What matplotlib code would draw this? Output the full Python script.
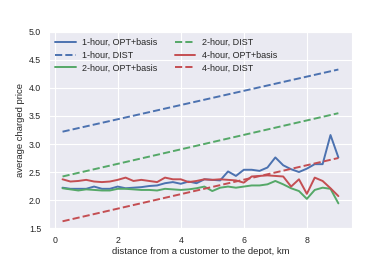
# average charged price vs distance to depot

import matplotlib
matplotlib.use("Agg")
import matplotlib.pyplot as plt
import seaborn as sns
import numpy as np

x = np.arange(1, 37) * 0.25

opt_1h = [2.22, 2.20, 2.20, 2.20, 2.24, 2.20, 2.20, 2.24, 2.21, 2.22, 2.23, 2.25,
          2.26, 2.30, 2.32, 2.29, 2.33, 2.30, 2.37, 2.36, 2.35, 2.51, 2.43, 2.54,
          2.54, 2.52, 2.58, 2.76, 2.62, 2.55, 2.50, 2.56, 2.64, 2.64, 3.16, 2.76]
opt_2h = [2.21, 2.19, 2.17, 2.19, 2.18, 2.17, 2.17, 2.20, 2.20, 2.19, 2.18, 2.18,
          2.17, 2.20, 2.19, 2.18, 2.19, 2.21, 2.24, 2.16, 2.22, 2.24, 2.22, 2.24,
          2.26, 2.26, 2.28, 2.34, 2.28, 2.21, 2.16, 2.02, 2.18, 2.22, 2.20, 1.94]
opt_4h = [2.37, 2.33, 2.34, 2.36, 2.33, 2.32, 2.33, 2.36, 2.40, 2.34, 2.36, 2.34,
          2.32, 2.40, 2.37, 2.37, 2.32, 2.34, 2.37, 2.36, 2.37, 2.36, 2.35, 2.31,
          2.42, 2.43, 2.44, 2.43, 2.42, 2.24, 2.37, 2.11, 2.40, 2.34, 2.21, 2.07]
dist_1h = [3.22, 4.33]
dist_2h = [2.42, 3.55]
dist_4h = [1.62, 2.75]
dist_x = [x[0], x[-1]]

sns.set_style("darkgrid")
plt.rcParams['font.family'] = ['Liberation Sans', 'DejaVu Sans']

fig = plt.figure(figsize=(3.9, 2.6), dpi=100)
ax = fig.add_axes([0.125, 0.123, 0.778, 0.754])

blue, green, red = "#4C72B0", "#55A868", "#C44E52"
lw = 1.4
ax.plot(x, opt_1h, color=blue, lw=lw, label="1-hour, OPT+basis")
ax.plot(dist_x, dist_1h, color=blue, lw=lw, ls="--", label="1-hour, DIST")
ax.plot(x, opt_2h, color=green, lw=lw, label="2-hour, OPT+basis")
ax.plot(dist_x, dist_2h, color=green, lw=lw, ls="--", label="2-hour, DIST")
ax.plot(x, opt_4h, color=red, lw=lw, label="4-hour, OPT+basis")
ax.plot(dist_x, dist_4h, color=red, lw=lw, ls="--", label="4-hour, DIST")

ax.set_ylim(1.5, 5.0)
ax.set_yticks(np.arange(1.5, 5.01, 0.5))
ax.set_xticks([0, 2, 4, 6, 8])
ax.tick_params(labelsize=6.3, pad=2)
ax.set_xlabel("distance from a customer to the depot, km", fontsize=6.8, labelpad=2)
ax.set_ylabel("average charged price", fontsize=6.8, labelpad=3)
ax.legend(loc="upper left", ncol=2, frameon=False, fontsize=6.5,
          handlelength=2.3, handletextpad=0.7, columnspacing=1.9,
          labelspacing=0.4, borderaxespad=0.3)

fig.savefig("out.png", dpi=100)
